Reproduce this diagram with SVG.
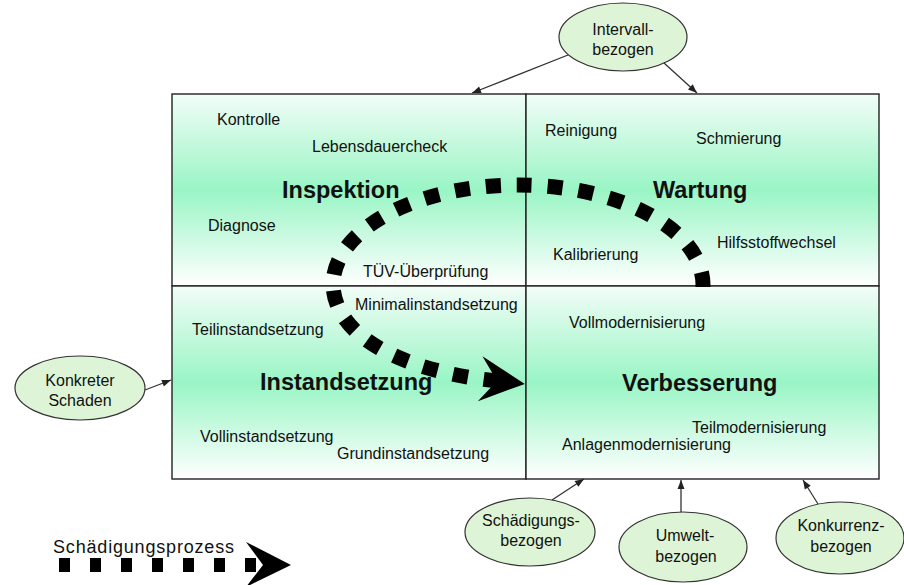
<svg xmlns="http://www.w3.org/2000/svg" width="904" height="585" viewBox="0 0 904 585">
<style>
.q{stroke:#222;stroke-width:1.4;fill:url(#qg)}
.el{fill:#ddf5d6;stroke:#333;stroke-width:1.2}
text{font-family:"Liberation Sans",Arial,sans-serif;fill:#111}
.s{font-size:16px}
.b{font-size:23.5px;font-weight:bold}
.e{font-size:16px;text-anchor:middle}
.c{fill:none;stroke:#333;stroke-width:1.3;marker-end:url(#ah)}
.d{fill:none;stroke:#000}
</style>
<defs>
<linearGradient id="qg" x1="0" y1="0" x2="0" y2="1">
<stop offset="0" stop-color="#f2fdf7"/>
<stop offset="0.5" stop-color="#99f5c5"/>
<stop offset="1" stop-color="#ffffff"/>
</linearGradient>
<marker id="ah" markerUnits="userSpaceOnUse" orient="auto" refX="0" refY="0" markerWidth="10" markerHeight="10" overflow="visible">
<path d="M0,0 L-9,-3.5 L-9,3.5 Z" fill="#222"/>
</marker>
<marker id="big" markerUnits="userSpaceOnUse" orient="auto" refX="0" refY="0" markerWidth="50" markerHeight="50" overflow="visible">
<path d="M28,0 L-17,-23 L0,0 L-17,22 Z" fill="#000"/>
</marker>
</defs>
<rect width="904" height="585" fill="#fff"/>

<g id="inspektion">
<rect class="q" x="172" y="94" width="354" height="192"/>
<text class="s" x="217" y="125">Kontrolle</text>
<text class="s" x="312" y="152">Lebensdauercheck</text>
<text class="b" x="282" y="198">Inspektion</text>
<text class="s" x="208" y="231">Diagnose</text>
<text class="s" x="363" y="277">TÜV-Überprüfung</text>
</g>
<g id="wartung">
<rect class="q" x="526" y="94" width="353" height="192"/>
<text class="s" x="545" y="136">Reinigung</text>
<text class="s" x="696" y="144">Schmierung</text>
<text class="b" x="653" y="198">Wartung</text>
<text class="s" x="553" y="260">Kalibrierung</text>
<text class="s" x="717" y="248">Hilfsstoffwechsel</text>
</g>
<g id="instandsetzung">
<rect class="q" x="172" y="286" width="354" height="193"/>
<text class="s" x="355" y="310">Minimalinstandsetzung</text>
<text class="s" x="192" y="335">Teilinstandsetzung</text>
<text class="b" x="260" y="390">Instandsetzung</text>
<text class="s" x="200" y="442">Vollinstandsetzung</text>
<text class="s" x="337" y="459">Grundinstandsetzung</text>
</g>
<g id="verbesserung">
<rect class="q" x="526" y="286" width="353" height="193"/>
<text class="s" x="569" y="328">Vollmodernisierung</text>
<text class="b" x="622" y="391">Verbesserung</text>
<text class="s" x="692" y="433">Teilmodernisierung</text>
<text class="s" x="562" y="450">Anlagenmodernisierung</text>
</g>

<g id="intervall">
<ellipse class="el" cx="623" cy="37" rx="64" ry="34"/>
<text class="e" x="623" y="35">Intervall-</text>
<text class="e" x="623" y="55">bezogen</text>
</g>
<g id="konkreter">
<ellipse class="el" cx="80" cy="388" rx="65" ry="32"/>
<text class="e" x="80" y="386">Konkreter</text>
<text class="e" x="80" y="406">Schaden</text>
</g>
<g id="schaedigung">
<ellipse class="el" cx="530" cy="532" rx="65" ry="34"/>
<text class="e" x="531" y="526">Schädigungs-</text>
<text class="e" x="531" y="546">bezogen</text>
</g>
<g id="umwelt">
<ellipse class="el" cx="683" cy="547" rx="64" ry="35"/>
<text class="e" x="685" y="541">Umwelt-</text>
<text class="e" x="686" y="562">bezogen</text>
</g>
<g id="konkurrenz">
<ellipse class="el" cx="840" cy="538" rx="64" ry="36"/>
<text class="e" x="841" y="531">Konkurrenz-</text>
<text class="e" x="841" y="552">bezogen</text>
</g>

<g id="legend">
<text x="53" y="553" font-size="18" textLength="181" lengthAdjust="spacing">Schädigungsprozess</text>
<path class="d" d="M59,565 H263" stroke-width="14" stroke-dasharray="11 20" marker-end="url(#big)"/>
</g>

<g id="connectors">
<path class="c" d="M568,55 L472,93"/>
<path class="c" d="M664,63 L697,93"/>
<path class="c" d="M145,390 L171,380"/>
<path class="c" d="M552,500 L584,479"/>
<path class="c" d="M681,512 L681,480"/>
<path class="c" d="M818,504 L803,480"/>
<path class="d" d="M703,288 L703,285 A185,100 0 0 0 333,285 C335,340 410,372 497,381" stroke-width="15" stroke-dasharray="15 16" stroke-dashoffset="-1" marker-end="url(#big)"/>
</g>
</svg>
